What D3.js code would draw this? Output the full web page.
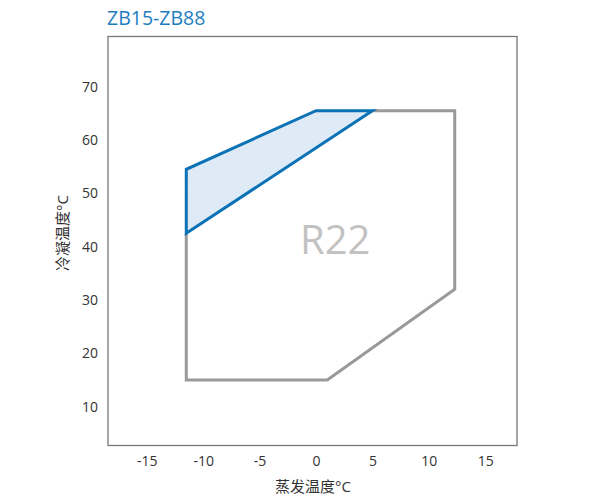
<!DOCTYPE html>
<html><head><meta charset="utf-8">
<script src="https://cdn.jsdelivr.net/npm/d3@7"></script>
<style>body{margin:0;background:#fff}</style>
</head><body>
<svg id="c" width="600" height="504"></svg>
<script>
const title = "ZB15-ZB88";
const xTicks = [-15, -10, -5, 0, 5, 10, 15];
const yTicks = [10, 20, 30, 40, 50, 60, 70];
// R22 envelope (evaporating °C, condensing °C)
const r22X = [-11.5, -11.5, 1, 12.3, 12.3, 5];
const r22Y = [42.5, 15, 15, 32, 65.5, 65.5];
// ZB15-ZB88 blue zone
const zbX = [-11.5, -11.5, 0, 5];
const zbY = [42.5, 54.5, 65.5, 65.5];
const xLabel = "蒸发温度°C";
const yLabel = "冷凝温度°C";
const regionLabel = "R22";

const svg = d3.select("#c");
const L = 108, R = 517, T = 36.5, B = 445.5;
const x = d3.scaleLinear().domain([-18.44, 17.82]).range([L, R]);
const y = d3.scaleLinear().domain([2.72, 79.4]).range([B, T]);
const font = "'Open Sans', 'Noto Sans CJK SC', sans-serif";

svg.append("text").attr("x", 107).attr("y", 25).text(title)
  .attr("font-family", font).attr("font-size", 19.5).attr("fill", "#1d7dbf");

svg.append("rect").attr("x", L).attr("y", T).attr("width", R - L).attr("height", B - T)
  .attr("fill", "none").attr("stroke", "#777").attr("stroke-width", 1.3);

const line = d3.line().x(d => x(d[0])).y(d => y(d[1]));
const r22 = r22X.map((v, i) => [v, r22Y[i]]);
const zb = zbX.map((v, i) => [v, zbY[i]]);

svg.append("path").attr("d", line(r22)).attr("fill", "none")
  .attr("stroke", "#999").attr("stroke-width", 3).attr("stroke-linejoin", "miter");
svg.append("path").attr("d", line(zb) + "Z").attr("fill", "#deeaf6")
  .attr("stroke", "#0b72b5").attr("stroke-width", 3).attr("stroke-linejoin", "miter");

svg.append("text").attr("x", x(1.7)).attr("y", y(38.6)).attr("text-anchor", "middle")
  .text(regionLabel).attr("font-family", font).attr("font-size", 40).attr("fill", "#c2c2c2");

const fmt = d => String(d);
const xa = svg.append("g").attr("transform", `translate(0,${B})`)
  .call(d3.axisBottom(x).tickValues(xTicks).tickSize(0).tickPadding(11).tickFormat(fmt));
xa.select(".domain").remove();
xa.selectAll("text").attr("font-family", font).attr("font-size", 14).attr("fill", "#333");

const ya = svg.append("g").attr("transform", `translate(${L},0)`)
  .call(d3.axisLeft(y).tickValues(yTicks).tickSize(0).tickPadding(10).tickFormat(fmt));
ya.select(".domain").remove();
ya.selectAll("text").attr("font-family", font).attr("font-size", 14).attr("fill", "#333");

svg.append("text").attr("x", 313).attr("y", 492).attr("text-anchor", "middle").text(xLabel)
  .attr("font-family", font).attr("font-size", 15).attr("fill", "#333");
svg.append("text").attr("transform", "translate(68,233) rotate(-90)").attr("text-anchor", "middle")
  .text(yLabel).attr("font-family", font).attr("font-size", 15).attr("fill", "#333");
</script>
</body></html>
